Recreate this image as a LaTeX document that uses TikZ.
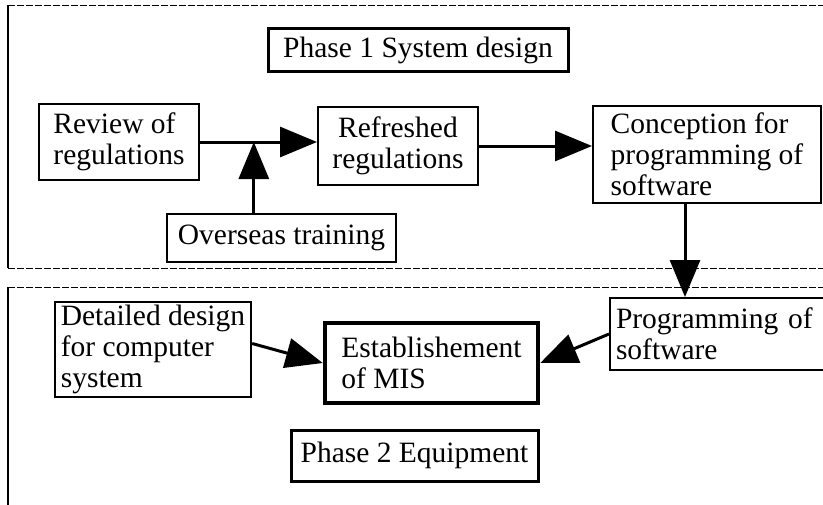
\documentclass[tikz,border=0pt]{standalone}
\usepackage{fontspec}
\setmainfont{Liberation Serif}
\usepackage{tikz}
\usetikzlibrary{arrows.meta}
\usetikzlibrary{calc,positioning}

\begin{document}
\begin{tikzpicture}[x=1pt,y=-1pt,on grid,>={Triangle[length=37pt,width=30pt]},
                    box/.style={draw,line width=2pt,inner xsep=6pt,inner ysep=3pt,align=left,
                                font=\fontsize{29.5}{31}\selectfont},
                    title/.style={box,line width=3pt,align=center},
                    main box/.style={box,line width=4.5pt},
                    link/.style={->,line width=3pt},
                    edge/.style={line width=1.4pt},
                    rule/.style={line width=1pt,dash pattern=on 7pt off 2pt}]
  \useasboundingbox (0,0) rectangle (823,504);

  % the two phase frames, open to the right
  \draw[edge] (8,5) -- (8,268);
  \draw[rule] (8,5) -- (840,5) (8,268) -- (840,268);
  \draw[edge] (8,287) -- (8,530);
  \draw[rule] (8,287) -- (840,287);

  % phase 1
  \node[title,minimum width=300pt,minimum height=43pt] (title1) at (418,50) {Phase 1 System design};
  \node[box,minimum width=160pt,minimum height=76pt] (review) [below left=92pt and 299pt of title1] {Review of\\regulations};
  \node[box,align=center,minimum width=160pt,minimum height=78pt] (refresh) [below right=4pt and 279pt of review] {Refreshed\\regulations};
  \node[box,minimum width=228pt,minimum height=97pt] (concept) [below right=8.5pt and 309pt of refresh] {Conception for\\programming of\\software};
  \node[box,align=center,minimum width=229pt,minimum height=48pt] (overseas) [below right=96pt and 162.5pt of review] {Overseas training};

  % phase 2
  \node[box,text width=212pt,minimum height=72pt] (program) [below right=179.5pt and 15pt of concept] {Programming of\\software};
  \node[main box,minimum width=213pt,minimum height=80pt] (mis) [below right=217pt and 33.5pt of refresh] {Establishement\\of MIS};
  \node[box,minimum width=196pt,minimum height=95pt] (detail) [above left=13.5pt and 278.5pt of mis] {Detailed design\\for computer\\system};
  \node[title,minimum width=247pt,minimum height=51pt] (title2) [below left=92.5pt and 17pt of mis] {Phase 2 Equipment};

  \coordinate (join) at ($(review.east)!0.46!(review.east -| refresh.west)$);
  \draw[link] (review.east) -- (review.east -| refresh.west);
  \draw[link] (overseas.north -| join) -- (join);
  \draw[link] (refresh.east) -- (refresh.east -| concept.west);
  \draw[link] ([xshift=-22pt]concept.south) -- ([xshift=-22pt]concept.south |- program.north);
  \draw[link] ([yshift=6pt]detail.east) -- (mis.west);
  \draw[link] (program.west) -- (mis.east);
\end{tikzpicture}
\end{document}
